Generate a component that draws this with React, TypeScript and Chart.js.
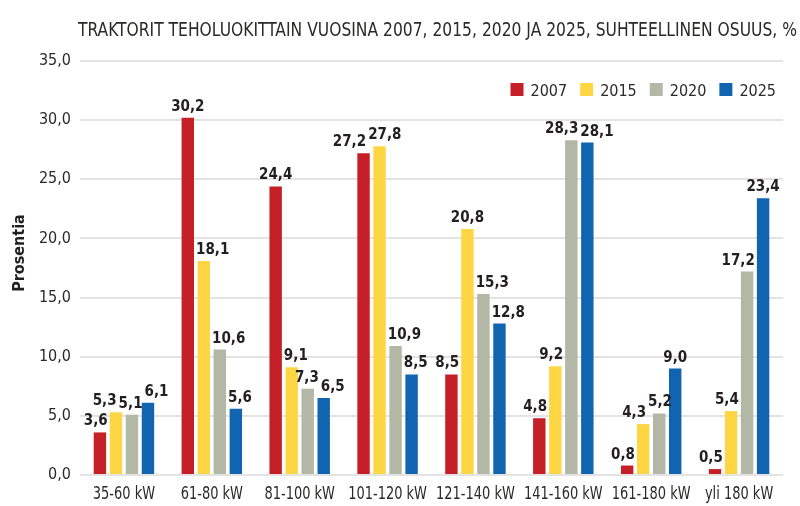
import React, { useEffect, useRef } from "react";
import { Chart, registerables } from "chart.js";

Chart.register(...registerables);

const categories = ["35-60 kW", "61-80 kW", "81-100 kW", "101-120 kW", "121-140 kW", "141-160 kW", "161-180 kW", "yli 180 kW"];
const years = ["2007", "2015", "2020", "2025"];
const values2007 = [3.6, 30.2, 24.4, 27.2, 8.5, 4.8, 0.8, 0.5];
const values2015 = [5.3, 18.1, 9.1, 27.8, 20.8, 9.2, 4.3, 5.4];
const values2020 = [5.1, 10.6, 7.3, 10.9, 15.3, 28.3, 5.2, 17.2];
const values2025 = [6.1, 5.6, 6.5, 8.5, 12.8, 28.1, 9.0, 23.4];
const yTicks = [0, 5, 10, 15, 20, 25, 30, 35];
const titleText = "TRAKTORIT TEHOLUOKITTAIN VUOSINA 2007, 2015, 2020 JA 2025, SUHTEELLINEN OSUUS, %";
const yTitleText = "Prosentia";

const COLORS = ["#c51f28", "#fed543", "#b3b7a6", "#1165b0"];
const FONT = '"DejaVu Sans Condensed", "Liberation Sans Narrow", "DejaVu Sans", sans-serif';
const TEXT = "#2b2a29";

const fmt = (v: number) => v.toFixed(1).replace(".", ",");

const decor = {
  id: "decor",
  afterDatasetsDraw(chart: any) {
    const ctx = chart.ctx;
    ctx.save();
    ctx.font = `bold 15px ${FONT}`;
    ctx.fillStyle = "#231f20";
    ctx.textAlign = "center";
    ctx.textBaseline = "alphabetic";
    const n = chart.data.labels.length;
    const metas = chart.data.datasets.map((_: any, i: number) => chart.getDatasetMeta(i));
    const LH = 12;
    for (let c = 0; c < n; c++) {
      const bars = metas.map((m: any) => {
        const el = m.data[c];
        return { x: el.x, top: el.y, half: el.width / 2 };
      });
      const items = metas.map((m: any, d: number) => {
        const el = m.data[c];
        const text = fmt(chart.data.datasets[d].data[c]);
        const w = ctx.measureText(text).width;
        return { x: el.x, base: el.y - 7, w, text, d };
      });
      // keep labels clear of taller neighbouring bars
      items.forEach((it: any) => {
        bars.forEach((b: any, bi: number) => {
          if (bi === it.d) return;
          if (b.top >= it.base) return;
          const left = it.x - it.w / 2;
          const right = it.x + it.w / 2;
          const bl = b.x - b.half;
          const br = b.x + b.half;
          if (right <= bl - 1 || left >= br + 1) return;
          if (bi < it.d) it.x = br + 2 + it.w / 2;
          else it.x = bl - 2 - it.w / 2;
        });
      });
      // resolve label-label overlaps
      for (let it = 0; it < 30; it++) {
        for (let j = 0; j < items.length - 1; j++) {
          const a = items[j];
          const b = items[j + 1];
          const vOverlap = Math.abs(a.base - b.base) < LH + 1;
          const gap = b.x - b.w / 2 - (a.x + a.w / 2);
          if (vOverlap && gap < 2) {
            const p = (2 - gap) / 2;
            a.x -= p;
            b.x += p;
          }
        }
      }
      items.forEach((i: any) => ctx.fillText(i.text, i.x, i.base));
    }
    ctx.restore();
  },
  afterDraw(chart: any) {
    const ctx = chart.ctx;
    ctx.save();
    // Title
    ctx.font = `19px ${FONT}`;
    ctx.fillStyle = TEXT;
    ctx.textAlign = "left";
    ctx.textBaseline = "alphabetic";
    const tw = ctx.measureText(titleText).width;
    const targetW = 719;
    ctx.save();
    ctx.translate(78, 36);
    ctx.scale(targetW / tw, 1);
    ctx.fillText(titleText, 0, 0);
    ctx.restore();

    // Category labels (condensed to match the narrow typeface)
    const xs = chart.scales.x;
    ctx.font = `17px ${FONT}`;
    ctx.fillStyle = TEXT;
    ctx.textAlign = "center";
    chart.data.labels.forEach((lab: string, i: number) => {
      const px = xs.getPixelForTick(i);
      ctx.save();
      ctx.translate(px, 498.5);
      ctx.scale(0.85, 1);
      ctx.fillText(lab, 0, 0);
      ctx.restore();
    });
    ctx.textAlign = "left";

    // Legend
    ctx.font = `16px ${FONT}`;
    const box = 13;
    const gapBT = 7;
    const gapItems = 13;
    const ds = chart.data.datasets;
    const widths = ds.map((d: any) => ctx.measureText(d.label).width);
    let total = 0;
    widths.forEach((w: number, i: number) => {
      total += box + gapBT + w + (i < widths.length - 1 ? gapItems : 0);
    });
    let x = 776 - total;
    const top = 83;
    ds.forEach((d: any, i: number) => {
      ctx.fillStyle = d.backgroundColor;
      ctx.fillRect(x, top, box, box);
      x += box + gapBT;
      ctx.fillStyle = TEXT;
      ctx.fillText(d.label, x, top + box);
      x += widths[i] + gapItems;
    });

    // Y title
    ctx.font = `bold 16px ${FONT}`;
    ctx.fillStyle = "#231f20";
    ctx.translate(24, 253);
    ctx.rotate(-Math.PI / 2);
    ctx.textAlign = "center";
    ctx.textBaseline = "alphabetic";
    ctx.fillText(yTitleText, 0, 0);
    ctx.restore();
  },
};

export default function App() {
  const ref = useRef<HTMLCanvasElement | null>(null);
  useEffect(() => {
    if (!ref.current) return;
    const series = [values2007, values2015, values2020, values2025];
    const chart = new Chart(ref.current, {
      type: "bar",
      data: {
        labels: categories,
        datasets: years.map((y, i) => ({
          label: y,
          data: series[i],
          backgroundColor: COLORS[i],
          borderWidth: 0,
          categoryPercentage: 0.729,
          barPercentage: 0.775,
        })),
      },
      options: {
        responsive: false,
        animation: false,
        devicePixelRatio: 1,
        layout: { padding: { top: 61, right: 17, left: 0, bottom: 0 } },
        plugins: {
          legend: { display: false },
          title: { display: false },
          tooltip: { enabled: false },
        },
        scales: {
          x: {
            grid: { display: false },
            border: { display: false },
            ticks: { display: false },
            afterFit: (s: any) => {
              s.height = 31;
            },
          },
          y: {
            min: 0,
            max: 35,
            afterBuildTicks: (s: any) => {
              s.ticks = yTicks.map((v) => ({ value: v }));
            },
            ticks: {
              callback: (v: any) => fmt(Number(v)),
              font: { family: FONT, size: 16 },
              color: TEXT,
              padding: 9,
            },
            grid: { color: "#e3e3e3", lineWidth: 2, drawTicks: false },
            border: { display: false },
            afterFit: (s: any) => {
              s.width = 80;
            },
          },
        },
      },
      plugins: [decor],
    });
    return () => chart.destroy();
  }, []);
  return (
    <div style={{ position: "absolute", left: 0, top: 0, width: 800, height: 506, background: "#fff" }}>
      <canvas ref={ref} width={800} height={506} style={{ display: "block" }} />
    </div>
  );
}
